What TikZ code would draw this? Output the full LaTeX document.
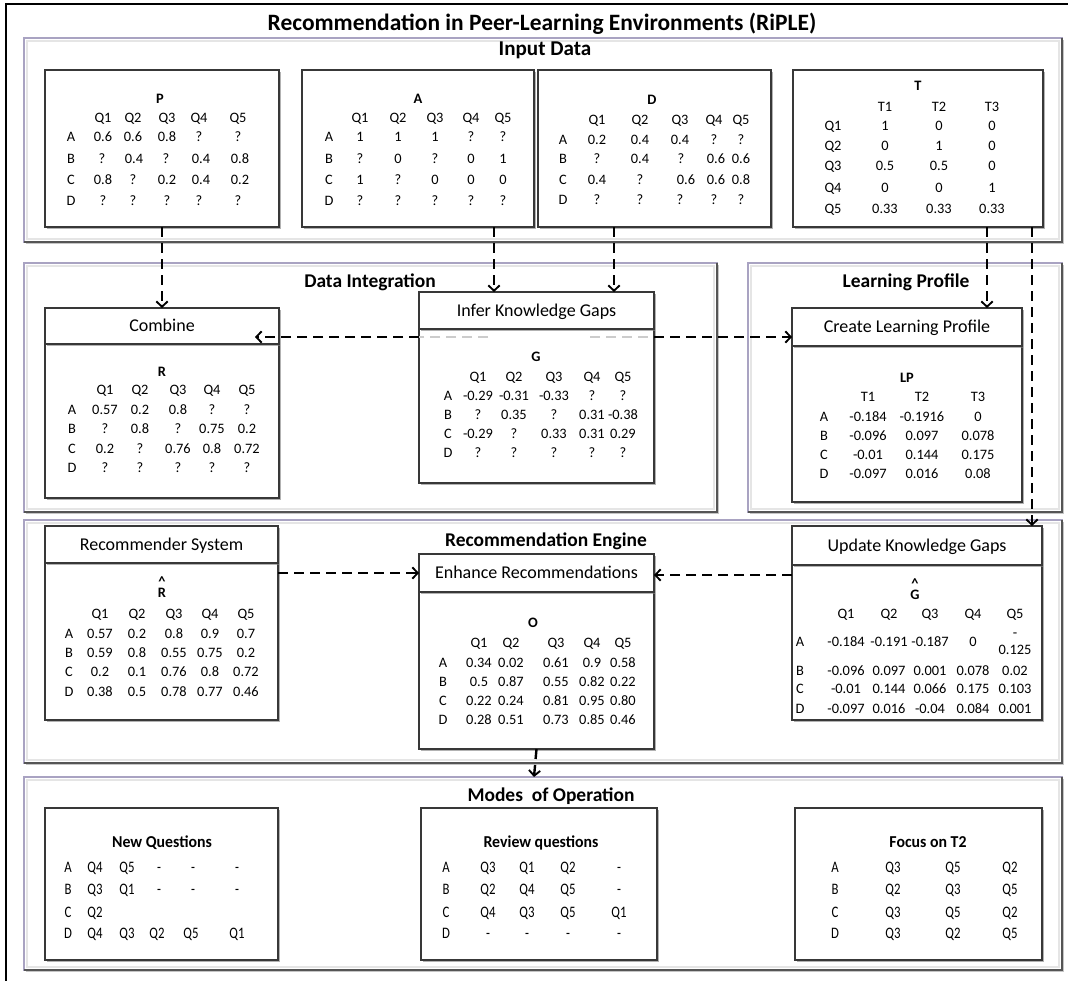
\documentclass[tikz,border=0pt]{standalone}
\usepackage{fontspec}
\setmainfont{Carlito}
\usetikzlibrary{shadows,arrows.meta,calc}

\definecolor{secedge}{HTML}{A9A3C2}
\definecolor{secdark}{HTML}{555555}
\definecolor{boxedge}{HTML}{383838}

\tikzset{
 secbox/.style={draw=secedge, line width=1.1pt, fill=white, inner sep=0pt, outer sep=0pt,
   drop shadow={shadow xshift=1.3pt, shadow yshift=-1.3pt, fill=black!45, opacity=0.5}},
 inbox/.style={draw=boxedge, line width=1.2pt, fill=white, inner sep=0pt, outer sep=0pt,
   drop shadow={shadow xshift=1.7pt, shadow yshift=-1.7pt, fill=black!50, opacity=0.6}},
 bigtitle/.style={font=\fontsize{17.6}{20}\selectfont\bfseries, anchor=base, inner sep=0pt},
 sectitle/.style={font=\fontsize{14.6}{17}\selectfont\bfseries, anchor=base, inner sep=0pt},
 hdrtext/.style={font=\fontsize{13.5}{16}\selectfont, anchor=base, inner sep=0pt},
 cell/.style={font=\fontsize{10.8}{12}\selectfont, anchor=base, inner sep=0pt},
 mlabel/.style={font=\fontsize{10.8}{12}\selectfont\bfseries, anchor=base, inner sep=0pt},
 motitle/.style={font=\fontsize{12.5}{14}\selectfont\bfseries, anchor=base, inner sep=0pt, xscale=0.95},
 mocell/.style={font=\fontsize{12}{14}\selectfont, anchor=base, inner sep=0pt, xscale=0.8},
 flow/.style={draw=black, line width=1.8pt, dash pattern=on 7.5pt off 4.5pt,
   -{Straight Barb[length=4pt,width=8.5pt,line width=1.4pt]}},
 flowgray/.style={draw=black!20, line width=1.8pt, dash pattern=on 7.5pt off 4.5pt},
}

% box from corners (x1,y1)-(x2,y2) in pixels
\newcommand\mybx[6]{\node[#6, minimum width={(#4-#2)*0.75pt}, minimum height={(#5-#3)*0.75pt}] (#1) at ({(#2+#4)/2},{(#3+#5)/2}) {};}
\newcommand\secbx[5]{%
 \mybx{#1}{#2}{#3}{#4}{#5}{secbox}
 \draw[black!10, line width=2.2pt] ($(#1.north west)+(3,3)$) rectangle ($(#1.south east)+(-3,-3)$);
 \draw[secdark, line width=1.5pt] (#1.north east) -- (#1.south east) -- (#1.south west);
}
% row of cells: prefix, style, x list, baseline y, cells
\newcommand\mrow[5]{%
 \foreach \cc [count=\i] in {#5} {
   \pgfmathsetmacro\cx{{#3}[\i-1]}
   \node[#2] (#1-\i) at (\cx,#4) {\cc};
 }}
% letter with a caret set well above it
\newcommand\hatted[1]{\ooalign{\hfil\raisebox{8.6pt}{\textasciicircum}\hfil\cr #1\cr}}

\begin{document}
\begin{tikzpicture}[x=0.75pt,y=-0.75pt]
\useasboundingbox (0,0) rectangle (1068,981);
\draw[line width=0.8pt] (6,981) -- (6,4) -- (1068,4);

\node[bigtitle] (title) at (542,31) {Recommendation in Peer-Learning Environments (RiPLE)};

% sections
\secbx{inp}{24}{38}{1062}{242}
\secbx{di}{24}{263}{717}{512}
\secbx{lp}{748}{263}{1062}{512}
\secbx{re}{24}{520}{1062}{763}
\secbx{mo}{24}{777}{1062}{970}

\node[sectitle, font=\fontsize{15.8}{18}\selectfont\bfseries] (inpt) at (545,56) {Input Data};
\node[sectitle] (dit) at (370,287) {Data Integration};
\node[sectitle] (lpt) at (906,287) {Learning Profile};
\node[sectitle] (ret) at (546,546) {Recommendation Engine};
\node[sectitle] (mot) at (551,801) {Modes \ of Operation};

% inner boxes
\mybx{P}{45}{70}{279}{227}{inbox}
\mybx{A}{302}{70}{534}{227}{inbox}
\mybx{D}{538}{70}{771}{227}{inbox}
\mybx{T}{793}{70}{1043}{227}{inbox}
\mybx{combb}{45}{344}{279}{498}{inbox}
\mybx{combh}{45}{308}{279}{344}{inbox}
\mybx{infb}{419}{329}{654}{483}{inbox}
\mybx{infh}{419}{292}{654}{329}{inbox}
\mybx{clpb}{792}{346}{1022}{502}{inbox}
\mybx{clph}{792}{308}{1022}{346}{inbox}
\mybx{rsb}{45}{563}{278}{720}{inbox}
\mybx{rsh}{45}{526}{278}{563}{inbox}
\mybx{enhb}{419}{592}{654}{749}{inbox}
\mybx{enhh}{419}{554}{654}{592}{inbox}
\mybx{ukgb}{792}{565}{1042}{720}{inbox}
\mybx{ukgh}{792}{526}{1042}{565}{inbox}
\mybx{newq}{45}{808}{278}{960}{inbox}
\mybx{revq}{421}{808}{657}{960}{inbox}
\mybx{focq}{795}{808}{1042}{960}{inbox}

% header texts
\node[hdrtext] (combt) at ($(combh.center)+(0,5.8)$) {Combine};
\node[hdrtext] (inft) at ($(infh.center)+(0,5.8)$) {Infer Knowledge Gaps};
\node[hdrtext] (clpt) at ($(clph.center)+(0,5.8)$) {Create Learning Profile};
\node[hdrtext] (rst) at ($(rsh.center)+(0,5.8)$) {Recommender System};
\node[hdrtext] (enht) at ($(enhh.center)+(0,5.8)$) {Enhance Recommendations};
\node[hdrtext] (ukgt) at ($(ukgh.center)+(0,5.8)$) {Update Knowledge Gaps};

% P
\node[mlabel] (Pl) at (160,103.5) {P};
\mrow{Ph}{cell}{103,133,167,199,238}{122.5}{Q1,Q2,Q3,Q4,Q5}
\mrow{Pa}{cell}{71,103,133,167,199,238}{141.5}{A,0.6,0.6,0.8,?,?}
\mrow{Pb}{cell}{71,102,134,166,201,240}{163.5}{B,?,0.4,?,0.4,0.8}
\mrow{Pc}{cell}{71,103,133,167,201,240}{184.5}{C,0.8,?,0.2,0.4,0.2}
\mrow{Pd}{cell}{71,103,133,167,199,238}{205.5}{D,?,?,?,?,?}
% A
\node[mlabel] (Al) at (418,103.5) {A};
\mrow{Ah}{cell}{360,398,435,471,503}{122.5}{Q1,Q2,Q3,Q4,Q5}
\mrow{Aa}{cell}{329,360,398,435,471,503}{141.5}{A,1,1,1,?,?}
\mrow{Ab}{cell}{329,360,398,435,471,503}{163.5}{B,?,0,?,0,1}
\mrow{Ac}{cell}{329,360,398,435,471,503}{184.5}{C,1,?,0,0,0}
\mrow{Ad}{cell}{329,360,398,435,471,503}{205.5}{D,?,?,?,?,?}
% D
\node[mlabel] (Dl) at (652,104.5) {D};
\mrow{Dh}{cell}{597,640,680,714,741}{124.5}{Q1,Q2,Q3,Q4,Q5}
\mrow{Da}{cell}{563,597,640,680,714,741}{144.5}{A,0.2,0.4,0.4,?,?}
\mrow{Db}{cell}{563,597,640,681,716,741}{163.5}{B,?,0.4,?,0.6,0.6}
\mrow{Dc}{cell}{563,597,640,686,716,741}{184.5}{C,0.4,?,0.6,0.6,0.8}
\mrow{Dd}{cell}{563,597,640,680,714,741}{204.5}{D,?,?,?,?,?}
% T
\node[mlabel] (Tl) at (918,90.5) {T};
\mrow{Th}{cell}{885,939,992}{111.5}{T1,T2,T3}
\mrow{Ta}{cell}{833,885,939,992}{130.5}{Q1,1,0,0}
\mrow{Tb}{cell}{833,885,939,992}{150.5}{Q2,0,1,0}
\mrow{Tc}{cell}{833,885,939,992}{170.5}{Q3,0.5,0.5,0}
\mrow{Td}{cell}{833,885,939,992}{192.5}{Q4,0,0,1}
\mrow{Te}{cell}{833,885,939,992}{213.5}{Q5,0.33,0.33,0.33}
% R
\node[mlabel] (Rl) at (162,376.5) {R};
\mrow{Rh}{cell}{105,140,178,212,247}{394.5}{Q1,Q2,Q3,Q4,Q5}
\mrow{Ra}{cell}{72,105,140,178,212,247}{414.5}{A,0.57,0.2,0.8,?,?}
\mrow{Rb}{cell}{72,105,140,178,212,247}{433.5}{B,?,0.8,?,0.75,0.2}
\mrow{Rc}{cell}{72,105,140,178,212,247}{453.5}{C,0.2,?,0.76,0.8,0.72}
\mrow{Rd}{cell}{72,105,140,178,212,247}{472.5}{D,?,?,?,?,?}
% G
\node[mlabel] (Gl) at (536,361.5) {G};
\mrow{Gh}{cell}{478,514,554,592,623}{381.5}{Q1,Q2,Q3,Q4,Q5}
\mrow{Ga}{cell}{448,478,514,554,592,623}{400.5}{A,-0.29,-0.31,-0.33,?,?}
\mrow{Gb}{cell}{448,478,514,554,592,623}{419.5}{B,?,0.35,?,0.31,-0.38}
\mrow{Gc}{cell}{448,478,514,554,592,623}{438.5}{C,-0.29,?,0.33,0.31,0.29}
\mrow{Gd}{cell}{448,478,514,554,592,623}{457.5}{D,?,?,?,?,?}
% LP
\node[mlabel] (LPl) at (907,382.5) {LP};
\mrow{LPh}{cell}{868,922,978}{401.5}{T1,T2,T3}
\mrow{LPa}{cell}{824,868,922,978}{421.5}{A,-0.184,-0.1916,0}
\mrow{LPb}{cell}{824,868,922,978}{440.5}{B,-0.096,0.097,0.078}
\mrow{LPc}{cell}{824,868,922,978}{459.5}{C,-0.01,0.144,0.175}
\mrow{LPd}{cell}{824,868,922,978}{478.5}{D,-0.097,0.016,0.08}
% R hat
\node[mlabel] (RHl) at (162,597.5) {\hatted{R}};
\mrow{RHh}{cell}{100,137,174,210,246}{618.5}{Q1,Q2,Q3,Q4,Q5}
\mrow{RHa}{cell}{69,100,137,174,210,246}{638.5}{A,0.57,0.2,0.8,0.9,0.7}
\mrow{RHb}{cell}{69,100,137,174,210,246}{657.5}{B,0.59,0.8,0.55,0.75,0.2}
\mrow{RHc}{cell}{69,100,137,174,210,246}{676.5}{C,0.2,0.1,0.76,0.8,0.72}
\mrow{RHd}{cell}{69,100,137,174,210,246}{696.5}{D,0.38,0.5,0.78,0.77,0.46}
% O
\node[mlabel] (Ol) at (533,627.5) {O};
\mrow{Oh}{cell}{479,511,556,592,623}{647.5}{Q1,Q2,Q3,Q4,Q5}
\mrow{Oa}{cell}{443,479,511,556,592,623}{667.5}{A,0.34,0.02,0.61,0.9,0.58}
\mrow{Ob}{cell}{443,479,511,556,592,623}{686.5}{B,0.5,0.87,0.55,0.82,0.22}
\mrow{Oc}{cell}{443,479,511,556,592,623}{705.5}{C,0.22,0.24,0.81,0.95,0.80}
\mrow{Od}{cell}{443,479,511,556,592,623}{724.5}{D,0.28,0.51,0.73,0.85,0.46}
% G hat
\node[mlabel] (GHl) at (915,599.5) {\hatted{G}};
\mrow{GHh}{cell}{846,889,930,973,1015}{618.5}{Q1,Q2,Q3,Q4,Q5}
\mrow{GHa}{cell}{800,846,889,930,973}{646.5}{A,-0.184,-0.191,-0.187,0}
\node[cell] (GHa-6a) at (1015,637.5) {-};
\node[cell] (GHa-6b) at (1015,654.5) {0.125};
\mrow{GHb}{cell}{800,846,889,930,973,1015}{675.5}{B,-0.096,0.097,0.001,0.078,0.02}
\mrow{GHc}{cell}{800,846,889,930,973,1015}{693.5}{C,-0.01,0.144,0.066,0.175,0.103}
\mrow{GHd}{cell}{800,846,889,930,973,1015}{713.5}{D,-0.097,0.016,-0.04,0.084,0.001}

% Modes
\node[motitle] (newt) at (162,847) {New Questions};
\mrow{Na}{mocell}{68,95,127,159,193,237}{872}{A,Q4,Q5,-,-,-}
\mrow{Nb}{mocell}{68,95,127,159,193,237}{894}{B,Q3,Q1,-,-,-}
\mrow{Nc}{mocell}{68,95}{917}{C,Q2}
\mrow{Nd}{mocell}{68,95,127,157,191,237}{938}{D,Q4,Q3,Q2,Q5,Q1}
\node[motitle] (revt) at (541,847) {Review questions};
\mrow{Va}{mocell}{446,488,527,568,619}{872}{A,Q3,Q1,Q2,-}
\mrow{Vb}{mocell}{446,488,527,568,619}{894}{B,Q2,Q4,Q5,-}
\mrow{Vc}{mocell}{446,488,527,568,619}{917}{C,Q4,Q3,Q5,Q1}
\mrow{Vd}{mocell}{446,488,527,568,619}{938}{D,-,-,-,-}
\node[motitle] (foct) at (928,847) {Focus on T2};
\mrow{Fa}{mocell}{835,893,953,1010}{872}{A,Q3,Q5,Q2}
\mrow{Fb}{mocell}{835,893,953,1010}{894}{B,Q2,Q3,Q5}
\mrow{Fc}{mocell}{835,893,953,1010}{917}{C,Q3,Q5,Q2}
\mrow{Fd}{mocell}{835,893,953,1010}{938}{D,Q3,Q2,Q5}

% connectors
\coordinate (ax) at (494,0);
\coordinate (dx) at (614,0);
\coordinate (tx) at (987,0);
\coordinate (ux) at (1032,0);
\coordinate (gy) at (0,337);
\coordinate (gls) at (488,337);
\coordinate (grs) at (590,337);
\coordinate (ctip) at (255,337);
\coordinate (ey1) at (0,573);
\coordinate (ey2) at (0,575);
\coordinate (mx) at (534,0);

\draw[flow] (P.south) -- (combh.north);
\draw[flow] (A.south -| ax) -- (infh.north -| ax);
\draw[flow] (D.south -| dx) -- (infh.north -| dx);
\draw[flow] (T.south -| tx) -- (clph.north -| tx);
\draw[flow] (T.south -| ux) -- (ukgh.north -| ux);
\draw[flowgray] (gls) -- (infb.west |- gy);
\draw[flow] (infb.west |- gy) -- (ctip);
\draw[flowgray] (grs) -- (infb.east |- gy);
\draw[flow] (infb.east |- gy) -- (clph.west |- gy);
\draw[flow] (rsb.east |- ey1) -- (enhh.west |- ey1);
\draw[flow] (ukgb.west |- ey2) -- (enhh.east |- ey2);
\draw[flow] (enhb.south) -- (mo.north -| mx);
\end{tikzpicture}
\end{document}
